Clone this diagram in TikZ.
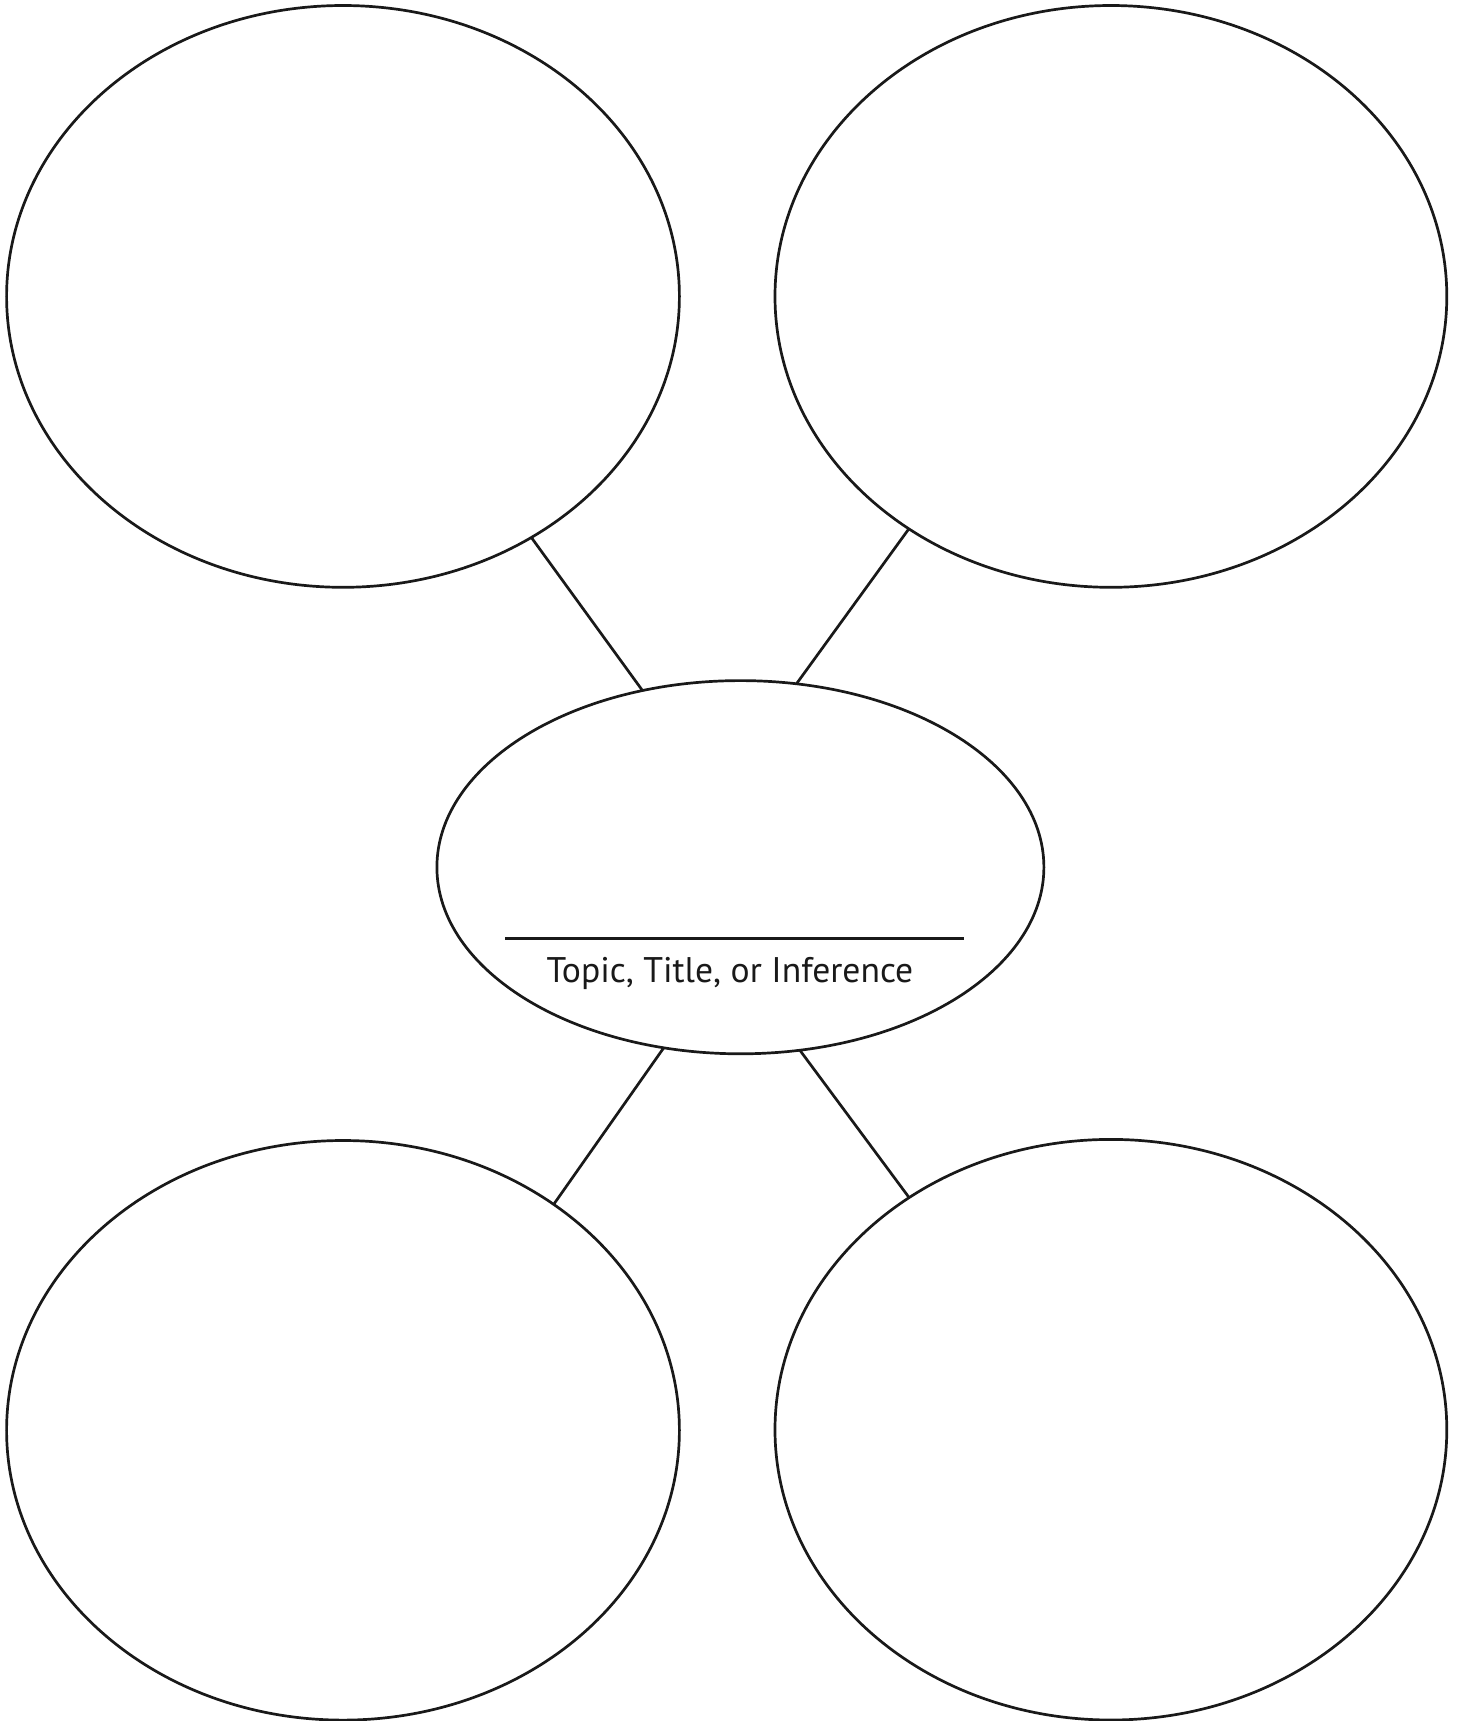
\documentclass[tikz,border=0pt]{standalone}
\usepackage{fontspec}
\setmainfont{PT Sans}
\usetikzlibrary{shapes.geometric}
\begin{document}
\begin{tikzpicture}[x=0.5pt,y=-0.5pt,
  bubble/.style={draw=black!90, ellipse, line width=1.35pt, inner sep=0pt, outer sep=0pt},
  link/.style={draw=black!90, line width=1.35pt},
  rule/.style={draw=black!90, line width=1.35pt}]
\useasboundingbox (0,0) rectangle (1460,1721);
\node[bubble, minimum width=336.4pt, minimum height=290.9pt] (tl) at (343,296.4) {};
\node[bubble, minimum width=335.9pt, minimum height=290.9pt] (tr) at (1110.9,296.4) {};
\node[bubble, minimum width=336.4pt, minimum height=289.8pt] (bl) at (343,1430.3) {};
\node[bubble, minimum width=335.9pt, minimum height=290.3pt] (br) at (1110.9,1429.7) {};
\node[bubble, minimum width=303.5pt, minimum height=186.6pt] (c) at (740.4,867.2) {};
\draw[link] (tl.-52.5) -- (c.119.5);
\draw[link] (tr.229) -- (c.73.35);
\draw[link] (c.247) -- (bl.47.86);
\draw[link] (c.-72.56) -- (br.131.16);
\coordinate (ruleL) at (505,938.3);
\coordinate (ruleR) at (964,938.3);
\draw[rule] (ruleL) -- (ruleR);
\node[anchor=base, inner sep=0pt, text=black!90, font=\fontsize{17.8}{20}\selectfont] (lbl) at (730,982.7) {Topic, Title, or Inference};
\end{tikzpicture}
\end{document}
